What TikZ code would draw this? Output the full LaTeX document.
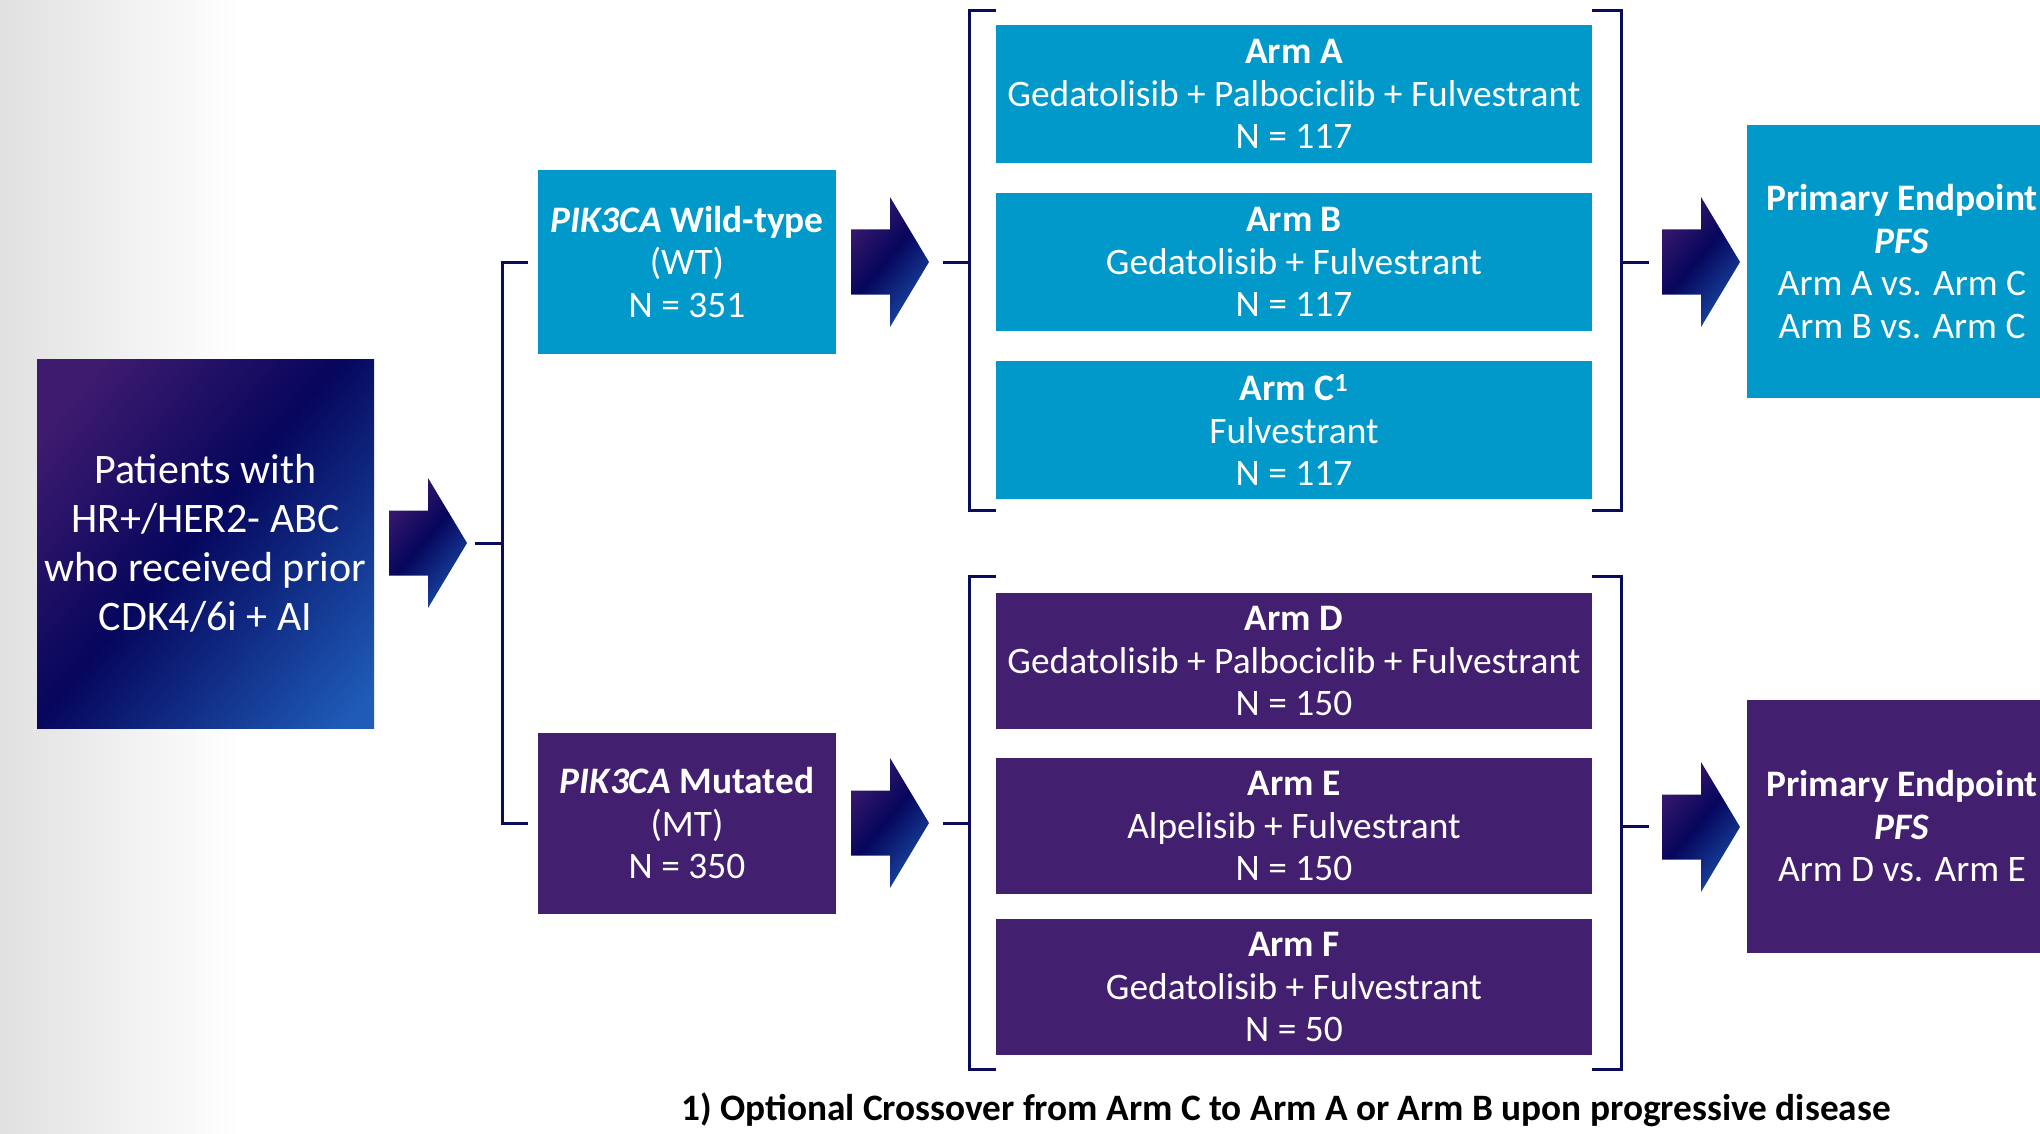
\documentclass[tikz,border=0pt]{standalone}
\usepackage{fontspec}
\setmainfont{Carlito}
\usetikzlibrary{calc}

\definecolor{wtblue}{HTML}{0099CA}
\definecolor{mtpurple}{HTML}{431F70}
\definecolor{navyline}{HTML}{0B0B5C}
\definecolor{fadetop}{HTML}{3E1B6F}
\definecolor{fademid}{HTML}{06065C}
\definecolor{fadebot}{HTML}{1E5CB8}
\pgfdeclarehorizontalshading{navyfade}{100bp}{color(0bp)=(fadetop); color(22bp)=(fadetop); color(48bp)=(fademid); color(82bp)=(fadebot); color(100bp)=(fadebot)}

\begin{document}
\begin{tikzpicture}[x=1pt, y=-1pt,
    box/.style={rectangle, inner sep=0pt, align=center, text=white,
        font=\fontsize{37.4pt}{42.5pt}\selectfont},
    wtbox/.style={box, fill=wtblue},
    mtbox/.style={box, fill=mtpurple},
    armbox/.style={minimum width=596pt, minimum height=138pt},
    endbox/.style={minimum width=310pt},
    startbox/.style={box, shading=navyfade, shading angle=-40,
        minimum width=337pt, minimum height=369pt,
        font=\fontsize{42pt}{49pt}\selectfont},
    bracketline/.style={draw=navyline, line width=3pt},
    arrowfill/.style={shading=navyfade, shading angle=-40}]

    \useasboundingbox (0,0) rectangle (2040,1134);
    \clip (0,0) rectangle (2040,1134);

    % page background
    \shade[left color=black!12, right color=white] (0,0) rectangle (240,1134);

    % population
    \node[startbox] (patients) at (205.5,543.5) {Patients with\\HR+/HER2- ABC\\who received prior\\CDK4/6i + AI};

    % cohorts
    \node[wtbox, minimum width=298pt, minimum height=184pt] (wt) at (687,262) {\textbf{\textit{PIK3CA} Wild-type}\\(WT)\\N = 351};
    \node[mtbox, minimum width=298pt, minimum height=181pt] (mt) at (687,823) {\textbf{\textit{PIK3CA} Mutated}\\(MT)\\N = 350};

    % arms
    \node[wtbox, armbox] (armA) at (1294,94) {\textbf{Arm A}\\Gedatolisib + Palbociclib + Fulvestrant\\N = 117};
    \node[wtbox, armbox] (armB) at (1294,262) {\textbf{Arm B}\\Gedatolisib + Fulvestrant\\N = 117};
    \node[wtbox, armbox] (armC) at (1294,430) {\textbf{Arm C\textsuperscript{1}}\\Fulvestrant\\N = 117};
    \node[mtbox, armbox, minimum height=136pt] (armD) at (1294,661) {\textbf{Arm D}\\Gedatolisib + Palbociclib + Fulvestrant\\N = 150};
    \node[mtbox, armbox, minimum height=136pt] (armE) at (1294,826) {\textbf{Arm E}\\Alpelisib + Fulvestrant\\N = 150};
    \node[mtbox, armbox, minimum height=136pt] (armF) at (1294,987) {\textbf{Arm F}\\Gedatolisib + Fulvestrant\\N = 50};

    % endpoints
    \node[wtbox, endbox, minimum height=273pt] (endWT) at (1902,261.5) {\textbf{Primary Endpoint}\\\textbf{\textit{PFS}}\\Arm A vs. Arm C\\Arm B vs. Arm C};
    \node[mtbox, endbox, minimum height=253pt] (endMT) at (1902,826.5) {\textbf{Primary Endpoint}\\\textbf{\textit{PFS}}\\Arm D vs. Arm E};

    % footnote
    \node[font=\fontsize{37.3pt}{42pt}\selectfont\bfseries] (note) at (1286,1110) {1) Optional Crossover from Arm C to Arm A or Arm B upon progressive disease};

    % block arrows (tips)
    \coordinate (a0) at (467,543);
    \coordinate (a1) at (929,262);
    \coordinate (a2) at (929,823);
    \coordinate (a3) at (1740,262);
    \coordinate (a4) at (1740,827);
    \coordinate (trunk) at (502,543);

    \begin{scope}[shift={(a0)}]
        \shade[arrowfill] (0,0) -- (-39,-65) -- (-39,-32.5) -- (-78,-32.5) -- (-78,32.5) -- (-39,32.5) -- (-39,65) -- cycle;
    \end{scope}
    \begin{scope}[shift={(a1)}]
        \shade[arrowfill] (0,0) -- (-39,-65) -- (-39,-32.5) -- (-78,-32.5) -- (-78,32.5) -- (-39,32.5) -- (-39,65) -- cycle;
    \end{scope}
    \begin{scope}[shift={(a2)}]
        \shade[arrowfill] (0,0) -- (-39,-65) -- (-39,-32.5) -- (-78,-32.5) -- (-78,32.5) -- (-39,32.5) -- (-39,65) -- cycle;
    \end{scope}
    \begin{scope}[shift={(a3)}]
        \shade[arrowfill] (0,0) -- (-39,-65) -- (-39,-32.5) -- (-78,-32.5) -- (-78,32.5) -- (-39,32.5) -- (-39,65) -- cycle;
    \end{scope}
    \begin{scope}[shift={(a4)}]
        \shade[arrowfill] (0,0) -- (-39,-65) -- (-39,-32.5) -- (-78,-32.5) -- (-78,32.5) -- (-39,32.5) -- (-39,65) -- cycle;
    \end{scope}

    % split into cohorts
    \draw[bracketline] ([xshift=8pt]a0) -- (trunk);
    \draw[bracketline] ([xshift=-10pt]wt.west) -| (trunk) |- ([xshift=-10pt]mt.west);

    % brackets round the wild-type arms
    \draw[bracketline] ([xshift=14pt]a1) -- ++(27,0);
    \draw[bracketline] ($(armA.north west)+(0,-14)$) -| ($(armC.south west)+(-26,11)$) -- ($(armC.south west)+(0,11)$);
    \draw[bracketline] ($(armA.north east)+(0,-14)$) -| ($(armC.south east)+(29,11)$) -- ($(armC.south east)+(0,11)$);
    \draw[bracketline] ($(armB.east)+(29,0)$) -- ++(28,0);

    % brackets round the mutated arms
    \draw[bracketline] ([xshift=14pt]a2) -- ++(27,0);
    \draw[bracketline] ($(armD.north west)+(0,-16)$) -| ($(armF.south west)+(-26,14)$) -- ($(armF.south west)+(0,14)$);
    \draw[bracketline] ($(armD.north east)+(0,-16)$) -| ($(armF.south east)+(29,14)$) -- ($(armF.south east)+(0,14)$);
    \draw[bracketline] ($(armE.east)+(29,0)$) -- ++(28,0);
\end{tikzpicture}
\end{document}
